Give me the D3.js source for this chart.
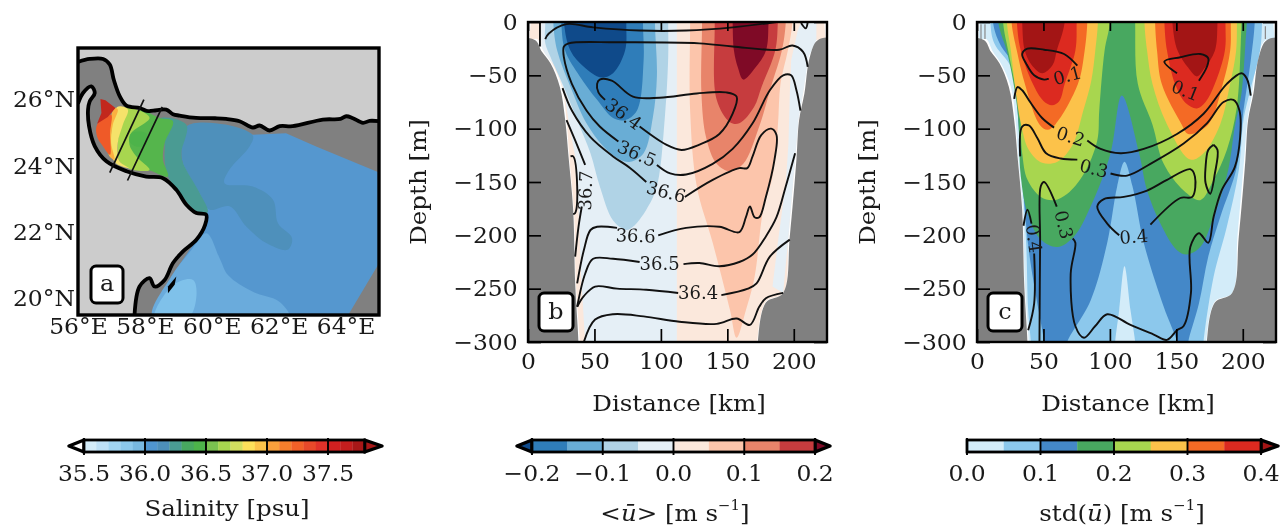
<!DOCTYPE html>
<html><head><meta charset="utf-8">
<script src="https://cdn.jsdelivr.net/npm/d3@7"></script>
<style>
html,body{margin:0;padding:0;background:#fff;overflow:hidden}
svg{display:block;filter:blur(0.55px)}
text{font-family:"DejaVu Serif",serif;fill:#1a1a1a}
</style></head><body>
<svg id="c" width="1281" height="528"></svg>
<script>
/* ---------- shared bathymetry section [km, depth m] ---------- */
const landLeft=[[-5,17],[5.5,17],[10.5,28],[17,39],[24,61],[28,92],[30.5,126],[34,176],[35.5,245],[38,300],[38,310],[-5,310]];
const landRight=[[230,17],[218,17],[212,33],[208,67],[204,92],[202,129],[197,201],[192,254],[179,263],[173,300],[173,310],[230,310]];
const oceanOutline=[[2,-5],[2,16],[7,16],[12,28],[18,39],[25.5,61],[29,92],[31,126],[34.5,176],[36,245],[39,300],[39,305],[172.5,305],[172.5,300],[179,262],[192,254],[196,201],[201,129],[203.5,92],[207,67],[211,33],[217,17],[223,17],[223,-5]];

/* ---------- panel b: mean velocity bands ---------- */
const uLeftPale=[[10,-5],[10,23],[13,30],[20.5,42],[27,64],[30.5,92],[35.5,126],[38,176],[40,239],[43,300],[43,305],[112,305],[112,-5]];
const uRightPale=[[207,-5],[217,-5],[217,17],[211,33],[207,67],[203.5,92],[201,129],[196,201],[192,254],[184,248],[188,207],[194,151],[196,114],[197,67],[198,36],[203,8]];
const uN10=[[13,-5],[105.5,-5],[105.5,33],[103,89],[97,154],[89,176],[79,192],[74,195],[64,186],[54,154],[47,123],[37,92],[27,61],[17,33],[13,20]];
const uN15=[[19,-5],[95.5,-5],[97,51],[94,89],[87,123],[77,131],[69,129],[57,117],[44,95],[32,61],[22,27]];
const uN20=[[25,-5],[86.5,-5],[87,36],[82,83],[73,92],[64,90],[52,73],[39,51],[28,27]];
const uN25=[[27,-5],[74,-5],[73,27],[64,48],[55,52],[42,42],[32,27]];
const uP05=[[122,-5],[199,-5],[195.5,27],[190,58],[188,98],[184,145],[177,176],[170.5,239],[164,270],[157,296],[152,270],[139,207],[127,154],[122,83]];
const uP10=[[131,-5],[194,-5],[191,27],[183.5,58],[174,98],[162,133],[152,140],[142,133],[134,108],[130.5,67]];
const uP15=[[140.5,-5],[188,-5],[186,27],[176,60],[170,80],[159,95],[152,94],[142,73]];
const uP20=[[154,-5],[181,-5],[179,27],[171,43],[162,54],[158,43],[155,27]];

/* ---------- panel b: salinity contours ---------- */
const sTop=[[13,16],[15.5,11],[29,2],[49,5],[84,8],[119,8],[154,5],[187,0]];
const s365a=[[210.5,42],[207,28],[199,22],[189,26],[154,23],[129,20],[67,19],[30.5,20],[27,23],[27,33],[33,58],[44,83],[54,98],[68,112]];
const s365b=[[97,134],[107,142],[119,143],[139,133],[154,119],[169,95],[182,64],[192,50],[198,50],[202,64],[205,83]];
const s364=[[58,73],[53,66],[52,58],[54,54],[63,55],[79,70],[99,71],[127,67],[149,66],[157,70],[154,86],[144,105],[129,115],[115.5,120],[104,115],[84,98]];
const s366a=[[26,62],[33,83],[47,108],[64,126],[77,137],[89,150]];
const s366b=[[118,164],[139,148],[159,137],[165,137],[169,126],[175.5,106],[183,100],[187,106],[185.5,129],[179,164],[174,183],[170.5,183],[167,173],[164,183],[159,197],[144,192],[119,193],[98,200]];
const s366c=[[67,193],[52,192],[47,195],[42,214],[37,245]];
const s367a=[[29,92],[35.5,111],[43,134]];
const s367b=[[40.5,173],[38,192],[35.5,220]];
const s367c=[[32,126],[34,126],[37,154],[35.5,179],[34,180]];
const s365lowA=[[37,267],[43,236],[49,222],[64,222],[84,225]];
const s365lowB=[[117,227],[129,226],[144,229],[159,225],[169,218],[179,201],[187,183],[194,154],[201,123]];
const s364lowA=[[37,267],[42,257],[50.5,248],[67,250],[89,251],[113,254]];
const s364lowB=[[145.5,256],[165.5,250],[172,245],[182,220],[197,204]];
const s363low=[[42,300],[50.5,279],[64,274],[87,276],[114,281],[142,283],[157,278],[167,284],[174,267],[179,259],[192,254]];
const sWallL=[[9,0],[9,23]];
const sWallR=[[205.5,1],[209,6],[210.5,0]];
const sLabels=[["36.4",72,86,36],["36.5",82,123,24],["36.6",104,159,15],["36.7",43,158,-88],["36.6",81,200,2],["36.5",99,226,0],["36.4",128,254,0]];

/* ---------- panel c: std bands ---------- */
const v05=[[10,-5],[13,20],[25.5,42],[29,64],[32,95],[34,145],[37,207],[38.5,270],[40.5,300],[40.5,305],[104,305],[104,300],[107,270],[111,229],[115.5,270],[119,300],[119,305],[170.5,305],[170.5,300],[178,239],[188,192],[197,139],[200.5,92],[205,67],[213,27],[214.5,-5]];
const v10=[[12,-5],[17,20],[28,42],[30.5,83],[34,145],[39,214],[44,254],[50.5,300],[50.5,305],[68,305],[68,300],[85.5,261],[98,207],[105.5,154],[111,131],[117,154],[125.5,207],[140.5,267],[150.5,300],[150.5,305],[159,305],[159,300],[167,264],[174,220],[183,183],[195.5,136],[200.5,83],[206,36],[209,-5]];
const v15=[[16,-5],[23,30],[30.5,83],[33,145],[38,179],[48,204],[60.5,211],[73,201],[85.5,173],[100.5,123],[109,69],[122,123],[128,158],[138,189],[150.5,214],[158,218],[168,211],[178,183],[189,139],[194,98],[199,67],[202,20],[203,-5]];
const v20L=[[19.6,-5],[24,30],[32,83],[34,123],[38,148],[48,164],[58,167],[68,161],[80.5,142],[90.5,111],[92,83],[96,27],[100,-5]];
const v20R=[[119,-5],[121,58],[132,96],[140.5,133],[155.5,158],[168,167],[178,148],[188,120],[195.5,80],[198.5,20],[199,-5]];
const v25L=[[22.5,-5],[25.5,27],[29,64],[33,95],[39,120],[49,132],[60.5,131],[72,115],[80,83],[86,55],[89,27],[91,-5]];
const v25R=[[126,-5],[128,27],[132,58],[143,96],[160.5,129],[170.5,123],[183,96],[190.5,58],[195,27],[195.6,-5]];
const v30L=[[26,-5],[30,27],[36,58],[47,96],[53,101],[59,96],[76,58],[81,27],[83,-5]];
const v30R=[[134,-5],[135.5,27],[139,58],[154,96],[159,105],[174,96],[185,58],[190.5,27],[191,-5]];
const v35L=[[30,-5],[33,27],[42,58],[50,74],[56.5,78],[62,74],[66,58],[74,27],[75,-5]];
const v35R=[[141,-5],[143,27],[149,58],[157,76],[165.5,81],[172,75],[179,58],[186.5,27],[187,-5]];
const v40L=[[34,-5],[36,27],[41,40],[49,48],[57,40],[60,27],[66,-5]];
const v40R=[[147,-5],[151,27],[159,43],[165.5,51],[171.5,43],[179,27],[181,-5]];

/* ---------- panel c: contours ---------- */
const t01L=[[75.5,41],[65.5,30],[50.5,26],[38,25],[34,30],[37,39],[43,50],[50.5,54],[54,53]];
const t01R=[[150.5,48],[141,37],[153,33],[168,30],[174,34],[173,42],[167,55]];
const t02a=[[28,72],[30.5,61],[34,64],[40.5,76],[49,90],[58,99]];
const t02b=[[83,111],[93,119],[108,123],[125.5,119],[150.5,105],[170.5,86],[188,58],[199,48],[203,53],[206,69]];
const t03a=[[32.5,126],[34,98],[39,97],[45.5,109],[52,123],[63,128],[75.5,129]];
const t03b=[[100.5,142],[113,144],[130.5,133],[155.5,114],[173,95],[185.5,75],[193,73],[197.5,83],[198,108],[194,136],[184,158],[178,183],[174,207],[167,198],[160.5,211],[161,254],[155.5,285],[150.5,289],[143,298],[133,293],[115.5,284],[98,274],[89,285],[80.5,296],[74,285],[70.5,236],[74,207],[72,203]];
const t03c=[[60,173],[50.5,150],[48,154],[47.5,207],[47,300]];
const t04a=[[130.5,190],[153,165],[162,164],[164,145],[160.5,138],[143,148],[128,158],[110.5,164],[95.5,166],[90.5,173],[98,189],[107,200]];
const t04ring=[[178,115],[181,120],[179,142],[175.5,161],[172,151],[172,136],[174,120],[178,115]];
const t04L1=[[35,191],[38,176],[41,189]];
const t04L2=[[43,217],[43,264],[38.5,289]];
const tLabels=[["0.1",68,50,-15],["0.1",157,64,22],["0.2",70.5,107,18],["0.3",88,137,14],["0.3",65.5,190,76],["0.4",118,201,-5],["0.4",43,203,82]];
const tWalls=[[[3,2],[3,16]],[[6,2],[6,16]],[[217,4],[217,16]]];

/* ---------- panel a: map [lon, lat] ---------- */
const coastIran=[[56,27.14],[56.35,27.23],[56.75,27.23],[56.95,27.06],[57.07,26.6],[57.25,26.1],[57.45,25.82],[57.85,25.75],[58.05,25.66],[58.25,25.67],[58.64,25.7],[58.84,25.56],[59.04,25.52],[59.53,25.45],[60.1,25.44],[60.43,25.42],[60.83,25.35],[61.23,25.16],[61.43,25.22],[61.73,25.07],[62.03,25.2],[62.42,25.2],[63.32,25.4],[63.85,25.42],[64.02,25.5],[64.22,25.44],[64.52,25.3],[64.72,25.36],[65,25.35]];
const coastOman=[[56,25.88],[56.15,26.2],[56.4,26.4],[56.5,26.2],[56.35,25.95],[56.3,25.7],[56.33,25.2],[56.5,24.6],[56.85,24.14],[57.45,23.84],[58.04,23.68],[58.54,23.63],[58.94,23.28],[59.24,22.83],[59.54,22.58],[59.83,22.53],[59.8,22.22],[59.54,21.77],[59.14,21.42],[58.84,21.07],[58.59,20.56],[58.29,20.36],[58.14,20.61],[57.84,20.36],[57.69,19.5]];
const island=[[58.69,20.36],[58.94,20.66],[58.89,20.41],[58.69,20.16]];
const salBlue=[[59.24,25.19],[60.43,25.24],[61.23,24.94],[62.22,24.99],[63.12,24.59],[65.2,23.72],[65.2,21.4],[64.02,19.4],[58.24,19.4],[58.79,20.66],[59.34,21.47],[59.8,22.07],[59.83,22.53],[59.54,22.63],[59.04,23.18]];
const salPaleA=[[59.84,21.97],[60.24,21.2],[60.49,20.7],[61.23,20.2],[62.02,19.9],[62.32,19.4],[58.24,19.4],[58.79,20.66],[59.34,21.4]];
const salPaleB=[[59.44,20.56],[59.54,20.06],[59.29,19.4],[58.29,19.4],[58.84,20.4]];
const salTealBlue=[[59.24,25.19],[60.43,25.24],[61.23,24.91],[61.13,24.59],[60.53,23.89],[60.38,23.48],[61.23,23.38],[61.83,22.98],[61.98,22.27],[62.4,21.82],[62.27,21.47],[61.63,21.67],[61.03,22.17],[60.53,22.78],[59.93,22.68],[59.64,23.18],[59.14,24.09],[59.09,24.39]];
const salTeal=[[58.44,25.42],[59.24,25.24],[59.09,24.39],[59.14,24.09],[59.64,23.18],[59.88,22.6],[59.54,22.63],[59.04,23.18],[58.69,23.68],[58.59,24.19],[58.59,24.69]];
const salGreen=[[57.84,25.67],[58.44,25.45],[58.84,25.35],[58.59,24.69],[58.54,24.19],[58.69,23.68],[58.14,23.86],[57.74,23.93],[57.44,24.09],[57.34,24.59],[57.54,25.19]];
const salLime=[[57.34,25.75],[57.84,25.67],[58.14,25.45],[57.59,24.99],[57.54,24.64],[57.74,24.29],[58.14,23.88],[57.54,23.91],[57.24,24.14],[57.19,24.69],[57.29,25.3]];
const salSpot=[[57.59,24.99],[58.04,24.99],[58.04,24.64],[57.74,24.59],[57.54,24.74]];
const salYellow=[[57.17,25.78],[57.49,25.7],[57.34,25.24],[57.19,24.69],[57.24,24.14],[57.54,23.93],[57.14,24.07],[56.99,24.39],[56.99,24.99]];
const salOrange=[[57.09,25.75],[57.19,25.7],[57.04,25.24],[56.99,24.69],[57.09,24.19],[56.94,24.29],[56.89,24.89]];
const salRedOrange=[[56.57,25.24],[56.99,25.55],[56.96,24.99],[56.96,24.34],[56.75,24.59],[56.57,24.89]];
const salDarkRed=[[56.67,26.02],[56.82,25.98],[57.12,25.75],[56.89,25.48],[56.57,25.27],[56.7,25.6]];
const sectionA=[[57.97,26],[56.95,23.8]];
const sectionB=[[58.52,25.78],[57.48,23.56]];
const lonTicks=[56,58,60,62,64];
const latTicks=[20,22,24,26];

/* ---------- colour bars ---------- */
const salEdges=[35.5,35.6,35.7,35.8,35.9,36,36.1,36.2,36.3,36.4,36.5,36.6,36.7,36.8,36.9,37,37.1,37.2,37.3,37.4,37.5,37.6,37.7,37.8];
const salColors=["#d3ecf9","#bde0f6","#a0d4f2","#8cc8ec","#78b8e0","#4f95cf","#4d8fba","#4a9b93","#48a860","#4db34a","#7ac250","#a8d64f","#d2df5f","#fde05a","#fcc24a","#f9a03c","#f57f2c","#f26128","#e8492a","#e0322a","#d02020","#c41e1e","#a81818"];
const salTicks=[35.5,36,36.5,37,37.5];
const uEdges=[-0.2,-0.15,-0.1,-0.05,0,0.05,0.1,0.15,0.2];
const uColors=["#2f7db9","#69add5","#b0d3e6","#e5eff6","#fbe8dc","#fcc5ab","#e8846a","#c63c3e"];
const uTicks=[-0.2,-0.1,0,0.1,0.2];
const stdEdges=[0,0.05,0.1,0.15,0.2,0.25,0.3,0.35,0.4];
const stdColors=["#d3ecf9","#8cc8ec","#4488c8","#48a860","#a8d64f","#fcc24a","#f46a25","#dc2a20"];
const stdTicks=[0,0.1,0.2,0.3,0.4];
const depthTicks=[0,50,100,150,200,250,300];
const kmTicks=[0,50,100,150,200];

const svg=d3.select("#c");
const defs=svg.append("defs");
const FS=22.5, SX=1.04;      /* tick labels */
const LS=23, LX=1.065;       /* axis titles */

function stretched(g,str,x,y,anchor,size,rot,sx){
  const t=g.append("text").attr("font-size",size).attr("text-anchor",anchor)
    .attr("dominant-baseline","central")
    .attr("transform",`translate(${x},${y}) rotate(${rot||0}) scale(${sx||LX},1)`);
  t.text(str);return t;
}
function clip(id,x0,x1,y0,y1){
  defs.append("clipPath").attr("id",id).append("rect").attr("x",x0).attr("y",y0).attr("width",x1-x0).attr("height",y1-y0);
}
/* top-edge points (depth -5) are run far above the frame so smoothing never pinches a band at the surface */
function openTop(pts){
  return pts.flatMap((p,i)=>{
    if(p[1]!==-5) return [p];
    const next=pts[(i+1)%pts.length];
    return next[1]===-5 ? [[p[0],0],[p[0],-60]] : [[p[0],-60],[p[0],0]];
  });
}
function poly(g,pts,fill,x,y,smooth){
  const l=d3.line().x(d=>x(d[0])).y(d=>y(d[1])).curve(smooth?d3.curveCatmullRomClosed.alpha(0.5):d3.curveLinearClosed);
  g.append("path").attr("d",l(smooth?openTop(pts):pts)).attr("fill",fill);
}
function contour(g,pts,x,y,w){
  const l=d3.line().x(d=>x(d[0])).y(d=>y(d[1])).curve(d3.curveCatmullRom.alpha(0.5));
  return g.append("path").attr("d",l(pts)).attr("fill","none").attr("stroke","#111").attr("stroke-width",w||1.9).attr("stroke-linejoin","round");
}
function badge(x,y,w,h,letter){
  svg.append("rect").attr("x",x).attr("y",y).attr("width",w).attr("height",h).attr("rx",5)
    .attr("fill","#fff").attr("stroke","#000").attr("stroke-width",3);
  stretched(svg,letter,x+w/2,y+h/2-1,"middle",23,0,1.04);
}
function section(id,left,bands,lines,labels,letter,bx){
  const x=d3.scaleLinear([0,225],[left,left+299]);
  const y=d3.scaleLinear([0,300],[22,342]);
  clip(id,left,left+299,22,342);
  const g=svg.append("g").attr("clip-path",`url(#${id})`);
  bands.forEach(b=>poly(g,b[0],b[1],x,y,b[2]));
  poly(g,landLeft,"#808080",x,y,1);
  poly(g,landRight,"#808080",x,y,1);
  lines.forEach(l=>contour(g,l,x,y));
  labels.forEach(d=>{
    g.append("text").attr("font-size",18).attr("text-anchor","middle").attr("dominant-baseline","central")
      .attr("transform",`translate(${x(d[1])},${y(d[2])}) rotate(${d[3]})`).text(d[0]);
  });
  const fmt=d=>d===0?"0":"\u2212"+d;
  const ax=(gen,tx,ty)=>{
    const a=svg.append("g").attr("transform",`translate(${tx},${ty})`).call(gen);
    a.select(".domain").remove();
    a.selectAll("line").attr("stroke","#000").attr("stroke-width",1.7);
    a.selectAll("text").attr("font-size",FS).attr("font-family","DejaVu Serif").attr("fill","#1a1a1a");
    return a;
  };
  const bot=ax(d3.axisBottom(x).tickValues(kmTicks).tickSize(-13).tickPadding(11),0,342);
  bot.selectAll("text").attr("transform",`scale(${SX},1)`);
  ax(d3.axisTop(x).tickValues(kmTicks).tickSize(-9).tickFormat(""),0,22);
  const le=ax(d3.axisLeft(y).tickValues(depthTicks).tickFormat(fmt).tickSize(-13).tickPadding(10),left,0);
  le.selectAll("text").attr("transform",`scale(${SX},1)`);
  ax(d3.axisRight(y).tickValues(depthTicks).tickFormat("").tickSize(-13),left+299,0);
  svg.append("rect").attr("x",left).attr("y",22).attr("width",299).attr("height",320).attr("fill","none").attr("stroke","#000").attr("stroke-width",2.4);
  stretched(svg,"Distance [km]",left+151,403,"middle",LS);
  stretched(svg,"Depth [m]",left-110,182,"middle",LS,-90);
  badge(bx,293,34,38,letter);
  return {x,y,g};
}

/* ---- panel a ---- */
(function(){
  const x=d3.scaleLinear([56,65],[78,379]);
  const y=d3.scaleLinear([19.5,27.56],[315,48]);
  clip("ca",78,379,48,315);
  const g=svg.append("g").attr("clip-path","url(#ca)");
  g.append("rect").attr("x",78).attr("y",48).attr("width",301).attr("height",267).attr("fill","#cccccc");
  const sea=coastIran.concat([[65.2,19.3],[57.69,19.3]],coastOman.slice().reverse());
  poly(g,sea,"#808080",x,y);
  poly(g,salBlue,"#5597cf",x,y);
  poly(g,salPaleA,"#6aabdc",x,y,1);
  poly(g,salPaleB,"#7fc1ea",x,y,1);
  poly(g,salTealBlue,"#4e90bb",x,y,1);
  poly(g,salTeal,"#4a9b93",x,y,1);
  poly(g,salGreen,"#55b54c",x,y,1);
  poly(g,salLime,"#a8d64f",x,y,1);
  poly(g,salSpot,"#4db34a",x,y,1);
  poly(g,salYellow,"#f5e26a",x,y,1);
  poly(g,salOrange,"#fbb040",x,y,1);
  poly(g,salRedOrange,"#ef5a28",x,y,1);
  poly(g,salDarkRed,"#c2281d",x,y);
  [coastIran,coastOman].forEach(c=>{
    const l=d3.line().x(d=>x(d[0])).y(d=>y(d[1])).curve(d3.curveCatmullRom.alpha(0.5));
    g.append("path").attr("d",l(c)).attr("fill","none").attr("stroke","#000").attr("stroke-width",3.8).attr("stroke-linejoin","round");
  });
  poly(g,island,"#000",x,y);
  [sectionA,sectionB].forEach(c=>{
    const l=d3.line().x(d=>x(d[0])).y(d=>y(d[1]));
    g.append("path").attr("d",l(c)).attr("stroke","#111").attr("stroke-width",1.7).attr("fill","none");
  });
  svg.append("rect").attr("x",78).attr("y",48).attr("width",301).attr("height",267).attr("fill","none").attr("stroke","#000").attr("stroke-width",3.4);
  const b=svg.append("g").attr("transform","translate(0,315)").call(d3.axisBottom(x).tickValues(lonTicks).tickSize(0).tickPadding(3).tickFormat(d=>d+"\u00b0E"));
  b.select(".domain").remove();
  b.selectAll("text").attr("font-size",FS).attr("font-family","DejaVu Serif").attr("fill","#1a1a1a").attr("transform",`scale(${SX},1)`);
  const a=svg.append("g").attr("transform","translate(78,0)").call(d3.axisLeft(y).tickValues(latTicks).tickSize(0).tickPadding(3).tickFormat(d=>d+"\u00b0N"));
  a.select(".domain").remove();
  a.selectAll("text").attr("font-size",FS).attr("font-family","DejaVu Serif").attr("fill","#1a1a1a").attr("transform",`scale(${SX},1)`);
  badge(91,266,32,37,"a");
})();

/* ---- panel b ---- */
section("cb",528,[
 [oceanOutline,"#fbe8dc",1],[uLeftPale,"#e5eff6"],[uRightPale,"#e5eff6"],
 [uN10,"#b0d3e6",1],[uN15,"#69add5",1],[uN20,"#2f7db9",1],[uN25,"#0f4a8a",1],
 [uP05,"#fcc5ab",1],[uP10,"#e8846a",1],[uP15,"#c63c3e",1],[uP20,"#7f0a26",1]
],[sTop,s365a,s365b,s364,s366a,s366b,s366c,s367a,s367b,s367c,s365lowA,s365lowB,s364lowA,s364lowB,s363low,sWallL,sWallR],sLabels,"b",539);

/* ---- panel c ---- */
const pc=section("cc",977,[
 [oceanOutline,"#d3ecf9",1],[v05,"#8cc8ec",1],[v10,"#4488c8",1],[v15,"#48a860",1],
 [v20L,"#a8d64f",1],[v20R,"#a8d64f",1],[v25L,"#fcc24a",1],[v25R,"#fcc24a",1],
 [v30L,"#f46a25",1],[v30R,"#f46a25",1],[v35L,"#dc2a20",1],[v35R,"#dc2a20",1],
 [v40L,"#a31515",1],[v40R,"#a31515",1]
],[t01L,t01R,t02a,t02b,t03a,t03b,t03c,t04a,t04ring,t04L1,t04L2],tLabels,"c",988);
tWalls.forEach(w=>contour(pc.g,w,pc.x,pc.y,1.2).attr("stroke","#888"));

/* ---- colour bars ---- */
function colorbar(scale,edges,colors,ticks,fmt,leftTip,rightTip,leftFill,rightFill){
  const y0=440,y1=452,ym=446;
  const g=svg.append("g");
  const [d0,d1]=[edges[0],edges[edges.length-1]];
  if(leftTip!==null) g.append("path").attr("d",`M${scale(d0)},${y0}L${leftTip},${ym}L${scale(d0)},${y1}Z`).attr("fill",leftFill).attr("stroke","#000").attr("stroke-width",3.4).attr("stroke-linejoin","round");
  if(rightTip!==null) g.append("path").attr("d",`M${scale(d1)},${y0}L${rightTip},${ym}L${scale(d1)},${y1}Z`).attr("fill",rightFill).attr("stroke","#000").attr("stroke-width",3.4).attr("stroke-linejoin","round");
  g.selectAll("rect.s").data(colors).join("rect").attr("class","s")
    .attr("x",(d,i)=>scale(edges[i])).attr("width",(d,i)=>scale(edges[i+1])-scale(edges[i])+0.3)
    .attr("y",y0).attr("height",y1-y0).attr("fill",d=>d);
  g.append("rect").attr("x",scale(d0)).attr("y",y0).attr("width",scale(d1)-scale(d0)).attr("height",y1-y0).attr("fill","none").attr("stroke","#000").attr("stroke-width",2.8);
  g.selectAll("line").data(ticks).join("line").attr("x1",scale).attr("x2",scale).attr("y1",y0-2).attr("y2",y1+3).attr("stroke","#000").attr("stroke-width",1.9);
  ticks.forEach(t=>stretched(g,fmt(t),scale(t),473,"middle",FS,0,SX));
}
const f1=d=>d.toFixed(1).replace("-","\u2212");
colorbar(d3.scaleLinear([35.5,37.5],[84,328]),salEdges,salColors,salTicks,f1,69,382,"#fff","#a81818");
colorbar(d3.scaleLinear([-0.2,0.2],[532,815]),uEdges,uColors,uTicks,f1,517,830,"#0f4a8a","#7f0a26");
colorbar(d3.scaleLinear([0,0.4],[967,1261]),stdEdges,stdColors,stdTicks,f1,null,1278,null,"#a31515");

stretched(svg,"Salinity [psu]",227,508,"middle",LS);
function mathLabel(cx,parts){
  const t=stretched(svg,"",cx,513,"middle",LS);
  parts.forEach(p=>{
    const s=t.append("tspan").text(p[0]);
    if(p[1]==="i") s.attr("font-style","italic");
    if(p[1]==="sup") s.attr("font-size",14).attr("dy",-8);
    if(p[1]==="after") s.attr("dy",8);
  });
}
mathLabel(675,[["<"],["\u016b","i"],["> [m s"],["\u22121","sup"],["]","after"]]);
mathLabel(1122,[["std("],["\u016b","i"],[") [m s"],["\u22121","sup"],["]","after"]]);
</script></body></html>
